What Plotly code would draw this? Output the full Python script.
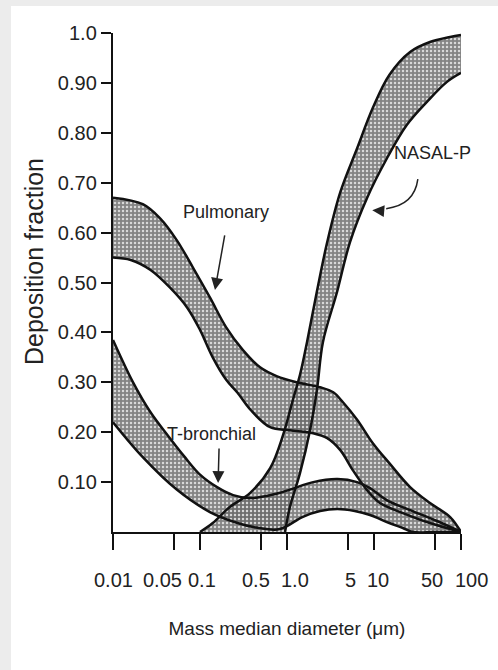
import math
import plotly.graph_objects as go

# ---------------- data ----------------
pulm_upper_x = [0.01, 0.022, 0.035, 0.054, 0.083, 0.13, 0.2, 0.31, 0.49, 0.77, 1.3, 2.4, 3.4, 4.4, 6.4, 9.7, 15, 26, 44, 75, 100]
pulm_upper_y = [0.67, 0.657, 0.628, 0.585, 0.53, 0.47, 0.41, 0.365, 0.33, 0.312, 0.30, 0.29, 0.28, 0.26, 0.225, 0.178, 0.138, 0.09, 0.058, 0.03, 0.0]
pulm_lower_x = [0.01, 0.016, 0.027, 0.045, 0.071, 0.1, 0.14, 0.2, 0.27, 0.38, 0.64, 1.08, 2.0, 2.9, 4.1, 5.7, 8.3, 11.7, 21.5, 44, 100]
pulm_lower_y = [0.55, 0.545, 0.525, 0.49, 0.45, 0.405, 0.35, 0.305, 0.279, 0.245, 0.21, 0.204, 0.198, 0.188, 0.164, 0.124, 0.084, 0.058, 0.038, 0.018, 0.0]

tb_upper_x = [0.01, 0.017, 0.027, 0.042, 0.067, 0.1, 0.157, 0.24, 0.38, 0.69, 1.08, 2.0, 3.8, 6.4, 9.0, 14, 26, 53, 100]
tb_upper_y = [0.385, 0.30, 0.24, 0.195, 0.15, 0.115, 0.09, 0.074, 0.068, 0.075, 0.085, 0.10, 0.106, 0.10, 0.088, 0.064, 0.044, 0.022, 0.0]
tb_lower_x = [0.01, 0.022, 0.054, 0.13, 0.27, 0.41, 0.77, 1.0, 1.5, 2.4, 3.8, 6.0, 9.0, 15, 21.5, 28, 50, 100]
tb_lower_y = [0.22, 0.15, 0.085, 0.04, 0.018, 0.01, 0.005, 0.012, 0.03, 0.042, 0.046, 0.042, 0.034, 0.018, 0.008, 0.0, 0.0, 0.0]

nasal_upper_x = [0.1, 0.14, 0.22, 0.375, 0.64, 0.9, 1.17, 1.41, 1.7, 2.2, 2.9, 4.1, 6.4, 9.7, 15, 26, 44, 75, 100]
nasal_upper_y = [0.0, 0.018, 0.05, 0.078, 0.128, 0.194, 0.265, 0.315, 0.381, 0.481, 0.581, 0.681, 0.769, 0.85, 0.916, 0.962, 0.982, 0.992, 0.996]
nasal_lower_x = [0.95, 1.08, 1.41, 1.84, 2.21, 2.59, 3.76, 5.3, 8.3, 14.1, 23.9, 40.6, 69, 100]
nasal_lower_y = [0.0, 0.05, 0.118, 0.204, 0.285, 0.381, 0.481, 0.581, 0.669, 0.749, 0.816, 0.862, 0.902, 0.92]

x_tickvals = [0.01, 0.05, 0.1, 0.5, 1, 5, 10, 50, 100]
x_ticktext = ["0.01", "0.05", "0.1", "0.5", "1.0", "5", "10", "50", "100"]
y_tickvals = [0.1, 0.2, 0.3, 0.4, 0.5, 0.6, 0.7, 0.8, 0.9, 1.0]
y_ticktext = ["0.10", "0.20", "0.30", "0.40", "0.50", "0.60", "0.70", "0.80", "0.90", "1.0"]

bands = [
    ("Pulmonary", pulm_lower_x, pulm_lower_y, pulm_upper_x, pulm_upper_y),
    ("T-bronchial", tb_lower_x, tb_lower_y, tb_upper_x, tb_upper_y),
    ("NASAL-P", nasal_lower_x, nasal_lower_y, nasal_upper_x, nasal_upper_y),
]

FONT = "Liberation Sans, Arial, Helvetica, sans-serif"
TXT = "#222222"
SMOOTH = 1.0

fig = go.Figure()

pattern = dict(shape=".", bgcolor="rgba(105,105,105,0.82)", fgcolor="rgba(225,225,225,0.9)",
               size=4, solidity=0.3, fillmode="replace")

# fills
for name, lx, ly, ux, uy in bands:
    fig.add_trace(go.Scatter(x=lx, y=ly, mode="lines", line=dict(width=0, shape="spline", smoothing=SMOOTH),
                             hoverinfo="skip", showlegend=False))
    fig.add_trace(go.Scatter(x=ux, y=uy, mode="lines", line=dict(width=0, shape="spline", smoothing=SMOOTH),
                             fill="tonexty", fillcolor="#9a9a9a", fillpattern=pattern,
                             name=name, showlegend=False))

# outlines on top
for name, lx, ly, ux, uy in bands:
    for xs, ys in ((lx, ly), (ux, uy)):
        fig.add_trace(go.Scatter(x=xs, y=ys, mode="lines",
                                 line=dict(color="#111111", width=2.5, shape="spline", smoothing=SMOOTH),
                                 hoverinfo="skip", showlegend=False))

# light grey frame around the picture, white card inside
fig.add_shape(type="rect", xref="paper", yref="paper", x0=-0.293, x1=1.12, y0=-0.3, y1=1.054,
              fillcolor="white", line=dict(width=0), layer="below")

# curved arrow for NASAL-P
fig.add_shape(type="path", xref="paper", yref="paper",
              path="M 0.876 0.707 Q 0.866 0.655 0.785 0.648",
              line=dict(color=TXT, width=1.5))

def label(text, x, y, size=18, angle=0):
    fig.add_annotation(x=x, y=y, xref="paper", yref="paper", text=text, showarrow=False,
                       xanchor="center", yanchor="middle", textangle=angle,
                       font=dict(family=FONT, size=size, color=TXT))

def arrow(x, y, ax, ay):
    fig.add_annotation(x=x, y=y, xref="paper", yref="paper", text="", showarrow=True,
                       ax=ax, ay=ay, arrowhead=2, arrowsize=1.6, arrowwidth=1.5, arrowcolor=TXT)

label("Pulmonary", 0.325, 0.641)
arrow(0.293, 0.485, 10, -56)
label("T-bronchial", 0.284, 0.196)
arrow(0.302, 0.098, 1, -36)
label("NASAL-P", 0.917, 0.760)
arrow(0.745, 0.645, 12, 1)

# y axis title (sits a little above the axis middle in the original)
label("Deposition fraction", -0.227, 0.541, size=25, angle=-90)

# x tick labels (placed like the hand-set labels of the original figure)
label_shift = [0, -11, 2, -5, 8, 3, 4, -3, 10]
for v, t, dx in zip(x_tickvals, x_ticktext, label_shift):
    fig.add_annotation(x=math.log10(v), y=-0.096, xref="x", yref="paper", text=t, showarrow=False,
                       xanchor="center", yanchor="middle", xshift=dx,
                       font=dict(family=FONT, size=20, color=TXT))

fig.update_layout(
    width=498, height=670,
    margin=dict(l=113, r=37, t=33, b=138, autoexpand=False),
    paper_bgcolor="#ececec", plot_bgcolor="white",
    font=dict(family=FONT, color=TXT),
    showlegend=False,
)
fig.update_xaxes(type="log", range=[-2, 2], tickvals=x_tickvals, ticktext=x_ticktext, tickangle=0,
                 automargin=False, showticklabels=False,
                 showgrid=False, zeroline=False, showline=True, linecolor="#111111", linewidth=2.4,
                 ticks="outside", ticklen=16, tickwidth=2, tickcolor="#111111",
                 title=dict(text="Mass median diameter (μm)", font=dict(family=FONT, size=19, color=TXT), standoff=72))
fig.update_yaxes(range=[0, 1.0], tickvals=y_tickvals, ticktext=y_ticktext,
                 automargin=False,
                 showgrid=False, zeroline=False, showline=True, linecolor="#111111", linewidth=2.4,
                 ticks="outside", ticklen=10, tickwidth=2, tickcolor="#111111", ticklabelstandoff=0,
                 tickfont=dict(family=FONT, size=20, color=TXT))

fig.write_html("out.html", config={"displayModeBar": False},
               post_script="document.body.style.margin='0px';document.body.style.padding='0px';")
